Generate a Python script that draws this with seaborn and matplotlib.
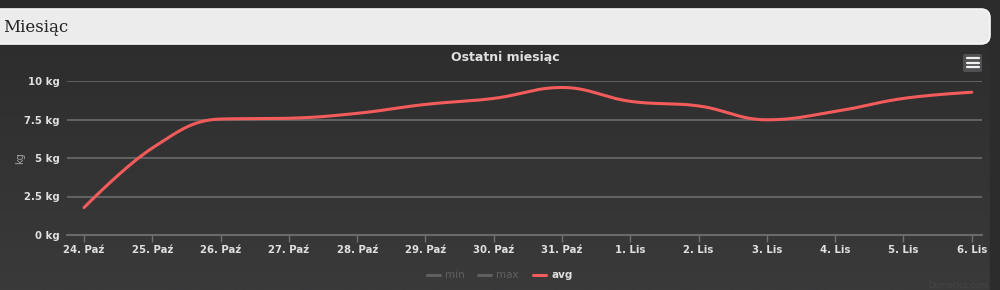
import numpy as np
import pandas as pd
import matplotlib
matplotlib.use("Agg")
import matplotlib.pyplot as plt
import seaborn as sns
from matplotlib.patches import FancyBboxPatch, Rectangle
from matplotlib.lines import Line2D
from matplotlib.colors import LinearSegmentedColormap

# ---- data ----
dates = ["24. Paź", "25. Paź", "26. Paź", "27. Paź", "28. Paź", "29. Paź", "30. Paź",
         "31. Paź", "1. Lis", "2. Lis", "3. Lis", "4. Lis", "5. Lis", "6. Lis"]
avg = [1.78, 5.65, 7.53, 7.58, 7.9, 8.48, 8.87, 9.58, 8.68, 8.38, 7.48, 8.02, 8.87, 9.27]
y_ticks = [0, 2.5, 5, 7.5, 10]
y_tick_labels = ["0 kg", "2.5 kg", "5 kg", "7.5 kg", "10 kg"]
legend_names = ["min", "max", "avg"]

W, H = 1000, 290
sns.set_theme(style="dark")
plt.rcParams['font.family'] = ['DejaVu Sans']

fig = plt.figure(figsize=(W / 100, H / 100), dpi=100)
fig.patch.set_facecolor("#333334")

# background layer in pixel coordinates
bg = fig.add_axes([0, 0, 1, 1], zorder=-10)
grad = np.linspace(0, 1, 256).reshape(-1, 1)
cmap = LinearSegmentedColormap.from_list("bg", ["#2b2b2c", "#3a3a3b"])
bg.imshow(grad, aspect="auto", cmap=cmap, extent=[0, W, H, 0], origin="upper")
bg.add_patch(Rectangle((990, 0), 10, H, color="#2c2c2d"))
bg.add_patch(FancyBboxPatch((-20, 9), 1010, 35, boxstyle="round,pad=0,rounding_size=9",
                            facecolor="#ececec", edgecolor="#f8f8f8", linewidth=1.2))
bg.set_xlim(0, W); bg.set_ylim(H, 0)
bg.axis("off")

fig.text(3 / W, 1 - 28 / H, "Miesiąc", fontsize=12, family="DejaVu Serif",
         color="#222222", va="center", ha="left")

# plot area
x0, x1 = 67, 982
ytop, ybot = 81, 235
ax = fig.add_axes([x0 / W, 1 - ybot / H, (x1 - x0) / W, (ybot - ytop) / H])
ax.set_facecolor("none")

# Highcharts-like spline through the data points
xs = np.arange(len(avg), dtype=float)
ys = np.array(avg, dtype=float)
sm = 1.5; den = sm + 1
n = len(xs)
lcx = xs.copy(); lcy = ys.copy(); rcx = xs.copy(); rcy = ys.copy()
for i in range(1, n - 1):
    lx, ly_, nx, ny = xs[i - 1], ys[i - 1], xs[i + 1], ys[i + 1]
    px, py = xs[i], ys[i]
    lcx_, lcy_ = (sm * px + lx) / den, (sm * py + ly_) / den
    rcx_, rcy_ = (sm * px + nx) / den, (sm * py + ny) / den
    corr = ((rcy_ - lcy_) * (rcx_ - px)) / (rcx_ - lcx_) + py - rcy_
    lcy_ += corr; rcy_ += corr
    if lcy_ > ly_ and lcy_ > py:
        lcy_ = max(ly_, py); rcy_ = 2 * py - lcy_
    elif lcy_ < ly_ and lcy_ < py:
        lcy_ = min(ly_, py); rcy_ = 2 * py - lcy_
    if rcy_ > ny and rcy_ > py:
        rcy_ = max(ny, py); lcy_ = 2 * py - rcy_
    elif rcy_ < ny and rcy_ < py:
        rcy_ = min(ny, py); lcy_ = 2 * py - rcy_
    lcx[i], lcy[i], rcx[i], rcy[i] = lcx_, lcy_, rcx_, rcy_
cx, cy = [], []
t = np.linspace(0, 1, 40)
for i in range(1, n):
    p0 = (xs[i - 1], ys[i - 1]); p1 = (rcx[i - 1], rcy[i - 1])
    p2 = (lcx[i], lcy[i]); p3 = (xs[i], ys[i])
    bx = (1 - t) ** 3 * p0[0] + 3 * (1 - t) ** 2 * t * p1[0] + 3 * (1 - t) * t ** 2 * p2[0] + t ** 3 * p3[0]
    by = (1 - t) ** 3 * p0[1] + 3 * (1 - t) ** 2 * t * p1[1] + 3 * (1 - t) * t ** 2 * p2[1] + t ** 3 * p3[1]
    cx.extend(bx); cy.extend(by)
curve = pd.DataFrame({"x": cx, "y": cy})
sns.lineplot(data=curve, x="x", y="y", ax=ax, color="#f45b5b", linewidth=2.2,
             sort=False, estimator=None, zorder=5)

ax.set_xlim(-0.25, 13.15)
ax.set_ylim(0, 10)
ax.set_yticks(y_ticks)
ax.set_yticklabels(y_tick_labels)
ax.set_xticks(range(len(dates)))
ax.set_xticklabels(dates)
ax.set_xlabel("")
ax.set_ylabel("kg", color="#a0a0a3", fontsize=7)
ax.yaxis.set_label_coords(-42 / (x1 - x0), 0.5)
for s in ["top", "right", "left"]:
    ax.spines[s].set_visible(False)
ax.spines["bottom"].set_color("#707073")
ax.spines["bottom"].set_linewidth(1.3)
ax.grid(False)
for v in y_ticks[1:]:
    ax.axhline(v, color="#707073", linewidth=1.1, zorder=1)
ax.tick_params(axis="x", colors="#707073", direction="out", length=5, width=1,
               labelcolor="#e0e0e3", labelsize=7.3, pad=2, bottom=True)
ax.tick_params(axis="y", length=0, labelcolor="#e0e0e3", labelsize=7.3, pad=5, left=False)
for lab in ax.get_xticklabels() + ax.get_yticklabels():
    lab.set_fontweight("bold")

# title
fig.text(505 / W, 1 - 58 / H, "Ostatni miesiąc", fontsize=9, fontweight="bold",
         color="#e0e0e3", ha="center", va="center")

# menu button
bg.add_patch(FancyBboxPatch((963, 54), 19, 18, boxstyle="round,pad=0,rounding_size=2",
                            facecolor="#505053", edgecolor="none"))
for yy in (58, 62.5, 67):
    bg.add_line(Line2D([966.5, 978.5], [yy, yy], color="#f0f0f0", linewidth=1.6))

# legend
leg_colors = ["#606063", "#606063", "#f45b5b"]
leg_text_colors = ["#606063", "#606063", "#e0e0e3"]
leg_x = [427, 478, 533]
ly = 1 - 275 / H
for name, c, tc, lx in zip(legend_names, leg_colors, leg_text_colors, leg_x):
    fig.add_artist(Line2D([lx / W, (lx + 13) / W], [ly, ly], color=c, linewidth=2.2,
                          transform=fig.transFigure))
    fig.text((lx + 18) / W, ly, name, fontsize=7.5, color=tc, va="center", ha="left",
             fontweight="bold" if name == "avg" else "normal")

fig.text(928 / W, 1 - 285 / H, "Domoticz.com", fontsize=6, color="#454547",
         va="center", ha="left")

fig.savefig("out.png", dpi=100, facecolor=fig.get_facecolor())
